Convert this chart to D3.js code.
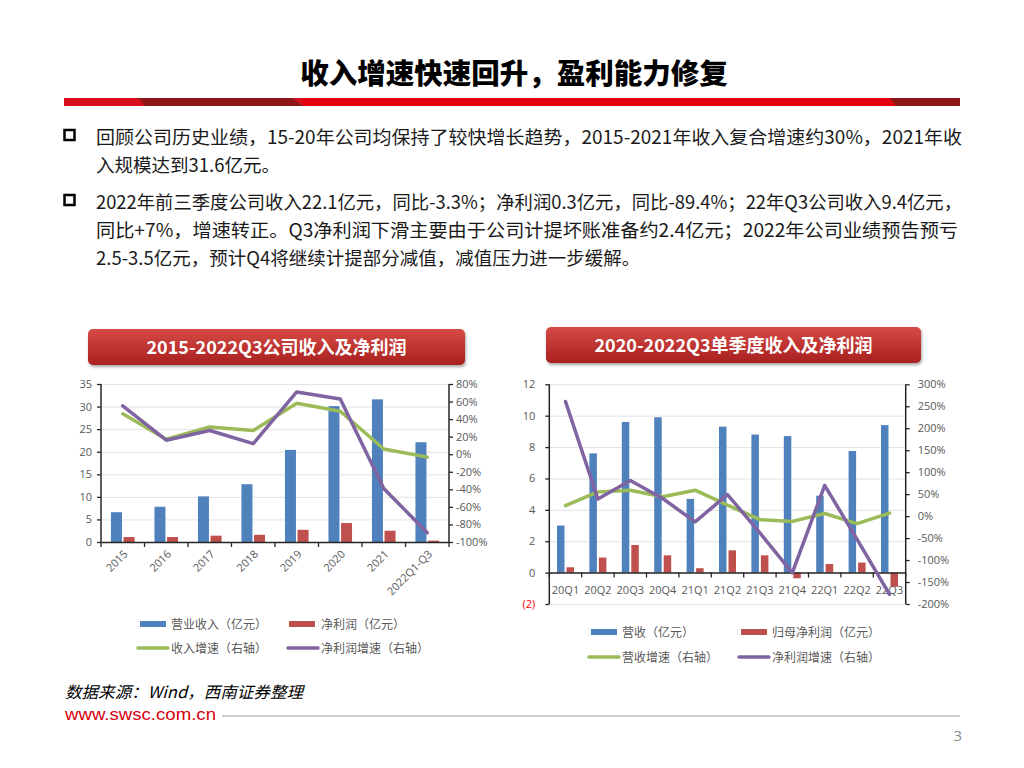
<!DOCTYPE html>
<html><head><meta charset="utf-8">
<script src="https://cdn.jsdelivr.net/npm/d3@7"></script>
<style>
html,body{margin:0;padding:0;background:#fff;}
svg{display:block;}
</style></head>
<body>
<svg id="c" width="1024" height="768"></svg>
<script>
// ---------- DATA ----------
const annualCats = ["2015","2016","2017","2018","2019","2020","2021","2022Q1-Q3"];
const annualRevenue = [6.6, 7.8, 10.1, 12.8, 20.4, 30.1, 31.6, 22.1];
const annualProfit = [1.1, 1.1, 1.4, 1.6, 2.7, 4.2, 2.5, 0.3];
const annualRevGrowth = [0.46, 0.17, 0.31, 0.27, 0.58, 0.49, 0.06, -0.033];
const annualProfitGrowth = [0.55, 0.16, 0.27, 0.12, 0.71, 0.63, -0.39, -0.894];
const annualLeftTicks = [0,5,10,15,20,25,30,35];
const annualRightTicks = [-1,-0.8,-0.6,-0.4,-0.2,0,0.2,0.4,0.6,0.8];

const qCats = ["20Q1","20Q2","20Q3","20Q4","21Q1","21Q2","21Q3","21Q4","22Q1","22Q2","22Q3"];
const qRevenue = [3.0, 7.6, 9.6, 9.9, 4.7, 9.3, 8.8, 8.7, 4.9, 7.75, 9.4];
const qProfit = [0.34, 0.96, 1.76, 1.1, 0.28, 1.42, 1.1, -0.36, 0.55, 0.64, -0.9];
const qRevGrowth = [0.24, 0.55, 0.59, 0.44, 0.59, 0.25, -0.08, -0.12, 0.06, -0.17, 0.07];
const qProfitGrowth = [2.61, 0.39, 0.81, 0.40, -0.13, 0.49, -0.38, -1.29, 0.70, -0.53, -1.78];
const qLeftTicks = [-2,0,2,4,6,8,10,12];
const qRightTicks = [-2,-1.5,-1,-0.5,0,0.5,1,1.5,2,2.5,3];

const bullet1 = ["回顾公司历史业绩，15-20年公司均保持了较快增长趋势，2015-2021年收入复合增速约30%，2021年收",
                 "入规模达到31.6亿元。"];
const bullet2 = ["2022年前三季度公司收入22.1亿元，同比-3.3%；净利润0.3亿元，同比-89.4%；22年Q3公司收入9.4亿元，",
                 "同比+7%，增速转正。Q3净利润下滑主要由于公司计提坏账准备约2.4亿元；2022年公司业绩预告预亏",
                 "2.5-3.5亿元，预计Q4将继续计提部分减值，减值压力进一步缓解。"];

const C = {blue:"#4f81bd", red:"#c0504d", green:"#9bbb59", purple:"#8064a2", tick:"#595959", grid:"#e3e3e3", axis:"#262626"};
const CJK = "'Noto Sans CJK SC','Noto Sans',sans-serif";
const LAT = "'Open Sans','Liberation Sans',sans-serif";
const pct = d=>{const v=Math.round(d*100); return (v<0?"-":"")+Math.abs(v)+"%";};

const svg = d3.select("#c");

// ---------- HEADER ----------
svg.append("text").attr("x",514).attr("y",84).attr("text-anchor","middle")
  .style("font-family",CJK).style("font-weight",900).style("font-size","28.5px").attr("fill","#000")
  .text("收入增速快速回升，盈利能力修复");
const hb = svg.append("g");
hb.append("rect").attr("x",64).attr("y",98).attr("width",896).attr("height",8).attr("fill","#d8101c");
hb.append("polygon").attr("points","138,98 293,98 303,106 145,106").attr("fill","#8e1716");
hb.append("polygon").attr("points","303,98 890,98 896,106 303,106").attr("fill","#e3000f");
hb.append("polygon").attr("points","890,98 960,98 960,106 896,106").attr("fill","#8e1716");

// ---------- BULLETS ----------
function bullet(y, lines, lens){
  svg.append("rect").attr("x",64.5).attr("y",y-14).attr("width",10).attr("height",10)
    .attr("fill","none").attr("stroke","#000").attr("stroke-width",2.5);
  lines.forEach((t,i)=>{
    const tx = svg.append("text").attr("x",96).attr("y",y+i*28)
      .style("font-family",CJK).style("font-size","18.5px").attr("fill","#1a1a1a").text(t);
    if(lens[i]) tx.attr("textLength",lens[i]).attr("lengthAdjust","spacingAndGlyphs");
  });
}
bullet(144, bullet1, [866, 0]);
bullet(209, bullet2, [866, 862, 0]);

// ---------- CHART TITLE BOXES ----------
const defs = svg.append("defs");
const gr = defs.append("linearGradient").attr("id","tg").attr("x1",0).attr("y1",0).attr("x2",0).attr("y2",1);
gr.append("stop").attr("offset","0%").attr("stop-color","#d64a45");
gr.append("stop").attr("offset","100%").attr("stop-color","#a8201f");
const fl = defs.append("filter").attr("id","sh").attr("x","-10%").attr("y","-30%").attr("width","120%").attr("height","170%");
fl.append("feDropShadow").attr("dx",1).attr("dy",2).attr("stdDeviation",1.5).attr("flood-color","#000").attr("flood-opacity",0.35);
function titleBox(x,y,w,h,t){
  svg.append("rect").attr("x",x).attr("y",y).attr("width",w).attr("height",h).attr("rx",5)
    .attr("fill","url(#tg)").attr("filter","url(#sh)");
  svg.append("text").attr("x",x+w/2).attr("y",y+h/2+6.5).attr("text-anchor","middle")
    .style("font-family",CJK).style("font-weight",700).style("font-size","18px").attr("fill","#fff").text(t);
}
titleBox(88,329,377,36,"2015-2022Q3公司收入及净利润");
titleBox(546,327,375,36,"2020-2022Q3单季度收入及净利润");

// ---------- generic combo chart ----------
function combo(o){
  const g = svg.append("g");
  const x = d3.scaleBand().domain(o.cats).range([o.x0,o.x1]).paddingInner(0).paddingOuter(0);
  const yL = d3.scaleLinear().domain(o.lDom).range([o.yb,o.yt]);
  const yR = d3.scaleLinear().domain(o.rDom).range([o.yb,o.yt]);
  // grid
  g.selectAll(".gl").data(o.lTicks).join("line")
    .attr("x1",o.x0).attr("x2",o.x1).attr("y1",d=>yL(d)+0.5).attr("y2",d=>yL(d)+0.5)
    .attr("stroke",C.grid).attr("stroke-width",1);
  // bars
  const bw = o.bw, gap = o.gap;
  const xc = d=>x(d)+x.bandwidth()/2;
  g.selectAll(".b1").data(o.cats).join("rect")
    .attr("x",d=>xc(d)-gap/2-bw).attr("width",bw)
    .attr("y",(d,i)=>Math.min(yL(o.rev[i]),yL(0))).attr("height",(d,i)=>Math.abs(yL(o.rev[i])-yL(0)))
    .attr("fill",C.blue);
  g.selectAll(".b2").data(o.cats).join("rect")
    .attr("x",d=>xc(d)+gap/2).attr("width",bw)
    .attr("y",(d,i)=>Math.min(yL(o.pro[i]),yL(0))).attr("height",(d,i)=>Math.abs(yL(o.pro[i])-yL(0)))
    .attr("fill",C.red);
  // axes
  const axL = d3.axisLeft(yL).tickValues(o.lTicks).tickSize(4).tickFormat(o.lFmt);
  const gL = g.append("g").attr("transform",`translate(${o.x0},0)`).call(axL);
  const axR = d3.axisRight(yR).tickValues(o.rTicks).tickSize(4).tickFormat(pct);
  const gR = g.append("g").attr("transform",`translate(${o.x1},0)`).call(axR);
  const axB = d3.axisBottom(x).tickSize(0).tickFormat("");
  const gB = g.append("g").attr("transform",`translate(0,${yL(0)})`).call(axB);
  // category boundary ticks
  const bounds = o.cats.map(d=>x(d)).concat([o.x1]);
  gB.selectAll(".bt").data(bounds).join("line").attr("x1",d=>d).attr("x2",d=>d).attr("y1",0).attr("y2",5)
    .attr("stroke",C.axis).attr("stroke-width",1.3);
  [gL,gR,gB].forEach(a=>{
    a.select(".domain").attr("stroke",C.axis).attr("stroke-width",1.5);
    a.selectAll(".tick line").attr("stroke",C.axis).attr("stroke-width",1.3);
    a.selectAll("text").style("font-family",LAT).style("font-size","11px").attr("fill",C.tick);
  });
  gL.select(".domain").attr("d",`M0,${o.yb}V${o.yt}`);
  gR.select(".domain").attr("d",`M0,${o.yb}V${o.yt}`);
  gL.selectAll(".tick text").attr("x",-o.lPad);
  gR.selectAll(".tick text").attr("x",o.rPad);
  if(o.negRed) gL.selectAll(".tick text").filter(d=>d<0).attr("fill","#ff0000");
  // x labels
  const xl = g.append("g");
  if(o.rotate){
    xl.selectAll("text").data(o.cats).join("text")
      .attr("transform",d=>`translate(${xc(d)+3},${yL(0)+10}) rotate(-45)`)
      .attr("text-anchor","end").attr("dy","0.35em")
      .style("font-family",LAT).style("font-size","11px").attr("fill",C.tick).text(d=>d);
  } else {
    xl.selectAll("text").data(o.cats).join("text")
      .attr("x",d=>xc(d)).attr("y",yL(0)+21).attr("text-anchor","middle")
      .style("font-family",LAT).style("font-size","11px").attr("fill",C.tick).text(d=>d);
  }
  // lines
  const ln = d3.line().x((d,i)=>xc(o.cats[i])).y(d=>yR(d));
  g.append("path").datum(o.rg).attr("d",ln).attr("fill","none").attr("stroke",C.green).attr("stroke-width",3.5).attr("stroke-linejoin","round").attr("stroke-linecap","round");
  g.append("path").datum(o.pg).attr("d",ln).attr("fill","none").attr("stroke",C.purple).attr("stroke-width",3.5).attr("stroke-linejoin","round").attr("stroke-linecap","round");
  // legend
  const lg = g.append("g");
  o.legend.forEach(it=>{
    if(it.type==="rect") lg.append("rect").attr("x",it.x).attr("y",it.y-3).attr("width",26).attr("height",6).attr("fill",it.c);
    else lg.append("line").attr("x1",it.x).attr("x2",it.x+30).attr("y1",it.y).attr("y2",it.y).attr("stroke",it.c).attr("stroke-width",3.5).attr("stroke-linecap","round");
    lg.append("text").attr("x",it.tx).attr("y",it.y+4.5).style("font-family",CJK).style("font-size","12px").attr("fill",C.tick).text(it.t);
  });
}

combo({
  cats:annualCats, rev:annualRevenue, pro:annualProfit, rg:annualRevGrowth, pg:annualProfitGrowth,
  x0:101, x1:449, yb:542, yt:384, lDom:[0,35], rDom:[-1,0.8], lTicks:annualLeftTicks, rTicks:annualRightTicks,
  lFmt:d3.format("d"), bw:11, gap:1.6, lPad:9, rPad:7, rotate:true, negRed:false,
  legend:[
    {type:"rect",x:140,y:624,c:C.blue,tx:171,t:"营业收入（亿元）"},
    {type:"rect",x:289,y:624,c:C.red,tx:321,t:"净利润（亿元）"},
    {type:"line",x:138,y:648,c:C.green,tx:171,t:"收入增速（右轴）"},
    {type:"line",x:288,y:648,c:C.purple,tx:321,t:"净利润增速（右轴）"}
  ]
});

combo({
  cats:qCats, rev:qRevenue, pro:qProfit, rg:qRevGrowth, pg:qProfitGrowth,
  x0:549.3, x1:905.7, yb:604, yt:384.3, lDom:[-2,12], rDom:[-2,3], lTicks:qLeftTicks, rTicks:qRightTicks,
  lFmt:d=>d<0?`(${-d})`:d3.format("d")(d), bw:7.5, gap:2, lPad:14, rPad:12, rotate:false, negRed:true,
  legend:[
    {type:"rect",x:591,y:632,c:C.blue,tx:622,t:"营收（亿元）"},
    {type:"rect",x:741,y:632,c:C.red,tx:772,t:"归母净利润（亿元）"},
    {type:"line",x:589,y:657,c:C.green,tx:622,t:"营收增速（右轴）"},
    {type:"line",x:739,y:657,c:C.purple,tx:772,t:"净利润增速（右轴）"}
  ]
});

// ---------- FOOTER ----------
svg.append("text").attr("x",65).attr("y",698).style("font-family",CJK).style("font-style","italic")
  .style("font-size","16px").attr("fill","#000").attr("textLength",238).attr("lengthAdjust","spacingAndGlyphs")
  .text("数据来源：Wind，西南证券整理");
svg.append("text").attr("x",65).attr("y",720).style("font-family","'Liberation Sans Narrow','Liberation Sans',sans-serif")
  .style("font-size","17px").attr("fill","#d7000f").attr("textLength",151).attr("lengthAdjust","spacingAndGlyphs").text("www.swsc.com.cn");
svg.append("line").attr("x1",222).attr("x2",960).attr("y1",716).attr("y2",716).attr("stroke","#cfcfcf").attr("stroke-width",2);
svg.append("text").attr("x",962).attr("y",741).attr("text-anchor","end").style("font-family",LAT)
  .style("font-size","15px").attr("fill","#8c8c8c").text("3");
</script>
</body></html>
